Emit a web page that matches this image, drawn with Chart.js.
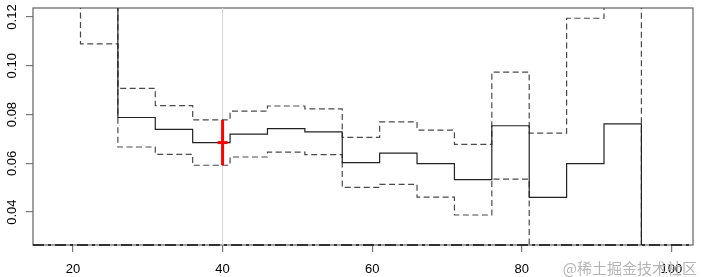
<!DOCTYPE html>
<html>
<head>
<meta charset="utf-8">
<script src="https://cdn.jsdelivr.net/npm/chart.js@4"></script>
<style>
  html, body { margin: 0; padding: 0; background: #fff; }
  #wrap { width: 701px; height: 277px; position: relative; }
</style>
</head>
<body>
<div id="wrap"><canvas id="stepChart"></canvas></div>
<script>
// step breaks (start of each bin) and the three step series
const binStarts = [16, 21, 26, 31, 36, 41, 46, 51, 56, 61, 66, 71, 76, 81, 86, 91, 96, 106];
const estimate = [0.20, 0.15, 0.0788, 0.0739, 0.0685, 0.0720, 0.0742, 0.0729, 0.0603, 0.0642, 0.0599, 0.0533, 0.0754, 0.0460, 0.0599, 0.0762, 0.0, 0.0];
const upper = [0.25, 0.20, 0.0907, 0.0837, 0.0778, 0.0814, 0.0835, 0.0823, 0.0706, 0.0770, 0.0736, 0.0678, 0.0974, 0.0724, 0.1195, 0.14, 0.0, 0.0];
const lower = [0.20, 0.109, 0.0667, 0.0637, 0.0592, 0.0626, 0.0646, 0.0636, 0.0501, 0.0514, 0.0461, 0.0388, 0.0535, 0.0, 0.0, 0.0, 0.0, 0.0];

// highlighted point at x = 40
const markX = [40];
const markY = [0.0685];
const markLow = [0.0592];
const markHigh = [0.0778];

const xTicks = [20, 40, 60, 80, 100];
const yTicks = [0.04, 0.06, 0.08, 0.10, 0.12];
const xRange = [14.65, 102.9];
const yRange = [0.0265, 0.1237];

const pts = (xs, ys) => xs.map((x, i) => ({ x, y: ys[i] }));

const yLabelsPlugin = {
  id: 'yLabels',
  afterDraw(chart) {
    const { ctx, scales } = chart;
    ctx.save();
    ctx.fillStyle = '#000';
    ctx.font = '13px "Liberation Sans", Arial, sans-serif';
    ctx.textAlign = 'center';
    ctx.textBaseline = 'alphabetic';
    yTicks.forEach(v => {
      const py = scales.y.getPixelForValue(v);
      ctx.save();
      ctx.translate(15.5, py);
      ctx.rotate(-Math.PI / 2);
      ctx.fillText(v.toFixed(2), 0, 0);
      ctx.restore();
    });
    ctx.font = '15px "Noto Sans CJK SC", sans-serif';
    ctx.fillStyle = '#b4b4b4';
    ctx.textAlign = 'right';
    ctx.textBaseline = 'middle';
    ctx.fillText('@稀土掘金技术社区', 697, 268);
    ctx.restore();
  }
};

const boxPlugin = {
  id: 'plotBox',
  beforeDatasetsDraw(chart) {
    const { ctx, chartArea: a } = chart;
    ctx.save();
    ctx.strokeStyle = '#6e6e6e';
    ctx.lineWidth = 1.3;
    ctx.strokeRect(a.left, a.top, a.right - a.left, a.bottom - a.top);
    ctx.restore();
  }
};

// chart.js paints the first dataset on top, so the list runs top -> bottom
new Chart(document.getElementById('stepChart'), {
  type: 'line',
  data: {
    datasets: [
      {
        label: 'mark',
        data: pts(markX, markY),
        showLine: false,
        pointStyle: 'line',
        pointRadius: 5,
        pointBorderWidth: 3,
        pointBorderColor: '#ff0000'
      },
      {
        label: 'ci',
        data: pts([markX[0], markX[0]], [markLow[0], markHigh[0]]),
        borderColor: '#ff0000',
        borderWidth: 3,
        pointRadius: 0
      },
      {
        label: 'estimate',
        data: pts(binStarts, estimate),
        stepped: 'before',
        borderColor: '#222',
        borderWidth: 1.2,
        pointRadius: 0
      },
      {
        label: 'lower',
        data: pts(binStarts, lower),
        stepped: 'before',
        borderColor: '#4a4a4a',
        borderWidth: 1.2,
        borderDash: [6, 3.5],
        pointRadius: 0
      },
      {
        label: 'upper',
        data: pts(binStarts, upper),
        stepped: 'before',
        borderColor: '#4a4a4a',
        borderWidth: 1.2,
        borderDash: [6, 3.5],
        pointRadius: 0
      },
      {
        label: 'base',
        data: pts([xRange[0], xRange[1]], [yRange[0], yRange[0]]),
        borderColor: '#111',
        borderWidth: 1.5,
        borderDash: [11, 4, 3, 4],
        pointRadius: 0,
        clip: 3
      },
      {
        label: 'ref',
        data: pts([markX[0], markX[0]], [yRange[0], yRange[1]]),
        borderColor: '#d4d4d4',
        borderWidth: 1,
        pointRadius: 0
      }
    ]
  },
  options: {
    responsive: true,
    maintainAspectRatio: false,
    animation: false,
    layout: { padding: { top: 7, right: 5, left: 0, bottom: 0 } },
    scales: {
      x: {
        type: 'linear',
        min: xRange[0],
        max: xRange[1],
        afterBuildTicks: s => { s.ticks = xTicks.map(v => ({ value: v })); },
        afterFit: s => { s.height = 32; },
        grid: { drawOnChartArea: false, drawTicks: true, tickLength: 7, color: '#777', lineWidth: 1.2 },
        border: { display: false },
        ticks: {
          color: '#000',
          padding: 10,
          maxRotation: 0,
          font: { family: '"Liberation Sans", Arial, sans-serif', size: 13 }
        }
      },
      y: {
        min: yRange[0],
        max: yRange[1],
        afterBuildTicks: s => { s.ticks = yTicks.map(v => ({ value: v })); },
        afterFit: s => { s.width = 33; },
        grid: { drawOnChartArea: false, drawTicks: true, tickLength: 7, color: '#777', lineWidth: 1.2 },
        border: { display: false },
        ticks: { display: false }
      }
    },
    plugins: {
      legend: { display: false },
      tooltip: { enabled: false }
    }
  },
  plugins: [boxPlugin, yLabelsPlugin]
});
</script>
</body>
</html>
